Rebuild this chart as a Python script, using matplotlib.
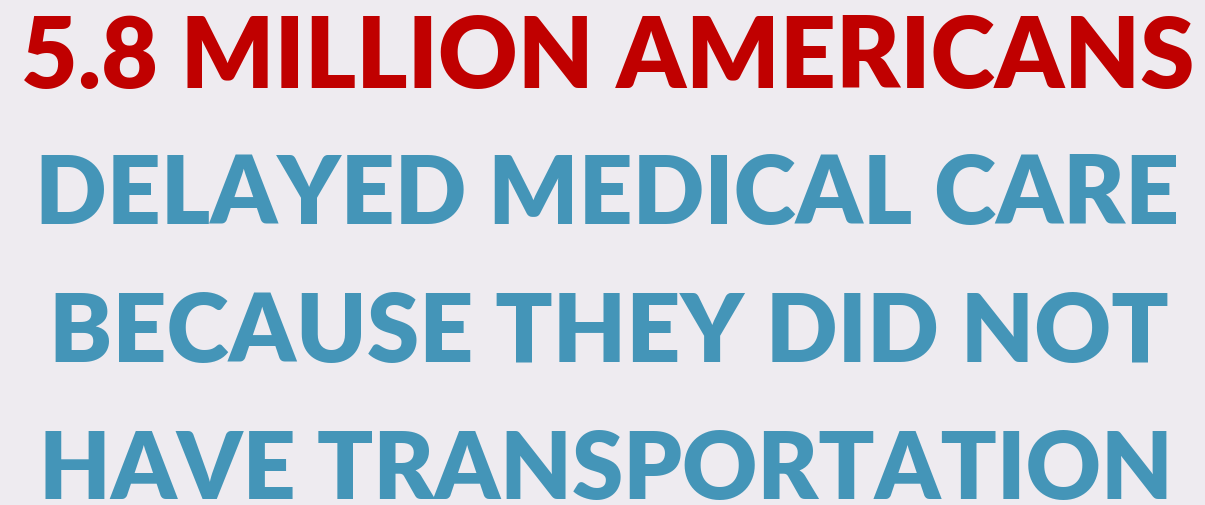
import matplotlib
matplotlib.use('Agg')
import matplotlib.pyplot as plt

lines = ['5.8 MILLION AMERICANS',
         'DELAYED MEDICAL CARE',
         'BECAUSE THEY DID NOT',
         'HAVE TRANSPORTATION']
colors = ['#C00000', '#4495B8', '#4495B8', '#4495B8']
# pixel extents: left, right, baseline
lefts = [20, 35, 48, 38]
rights = [1195, 1180, 1170, 1173]
baselines = [88, 224, 362, 499]

W, H = 1205, 505
fig = plt.figure(figsize=(W / 100, H / 100), dpi=100)
fig.patch.set_facecolor('#EEEBF0')

renderer = fig.canvas.get_renderer()
for txt, c, l, r, b in zip(lines, colors, lefts, rights, baselines):
    t = fig.text((l + r) / 2 / W, 1 - b / H, txt, color=c, fontsize=70,
                 fontfamily='Lato', fontweight='heavy',
                 ha='center', va='baseline')
    w = t.get_window_extent(renderer).width
    t.set_fontsize(70 * (r - l) / w)

fig.savefig('out.png', dpi=100, facecolor=fig.get_facecolor())
